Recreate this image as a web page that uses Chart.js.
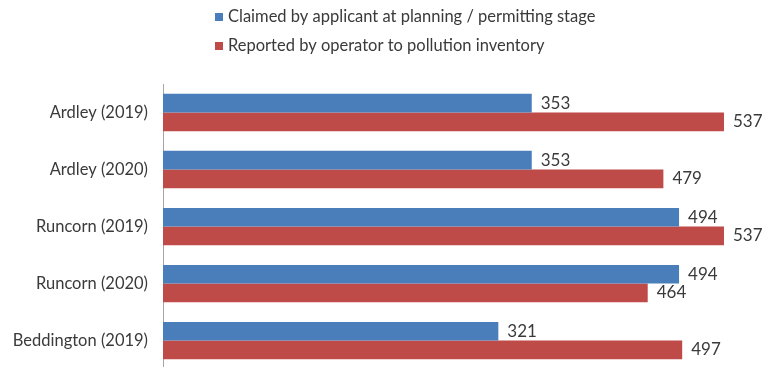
<!DOCTYPE html>
<html>
<head>
<meta charset="utf-8">
<script src="https://cdn.jsdelivr.net/npm/chart.js@4"></script>
<style>
  html, body { margin: 0; padding: 0; background: #fff; overflow: hidden; height: 367px; }
  #wrap { width: 764px; height: 394px; position: relative; }
</style>
</head>
<body>
<div id="wrap"><canvas id="chart"></canvas></div>
<script>
const categories = ["Ardley (2019)", "Ardley (2020)", "Runcorn (2019)", "Runcorn (2020)", "Beddington (2019)"];
const claimed = [353, 353, 494, 494, 321];
const reported = [537, 479, 537, 464, 497];
const seriesNames = ["Claimed by applicant at planning / permitting stage", "Reported by operator to pollution inventory"];

const fontFamily = 'Lato, "Open Sans", sans-serif';
const textColor = "#3a3a3a";

// legend drawn as two stacked rows, like the original
const stackedLegend = {
  id: "stackedLegend",
  afterDraw(chart) {
    const ctx = chart.ctx;
    ctx.save();
    ctx.font = "16.5px " + fontFamily;
    ctx.textBaseline = "middle";
    chart.data.datasets.forEach((ds, i) => {
      const y = 17 + i * 29;
      ctx.fillStyle = ds.backgroundColor;
      ctx.fillRect(215, y - 4, 8, 8);
      ctx.fillStyle = textColor;
      ctx.fillText(ds.label, 228, y);
    });
    ctx.restore();
  },
};

// value labels at the end of each bar
const barValues = {
  id: "barValues",
  afterDatasetsDraw(chart) {
    const ctx = chart.ctx;
    ctx.save();
    ctx.font = "17px " + fontFamily;
    ctx.fillStyle = textColor;
    ctx.textBaseline = "middle";
    chart.data.datasets.forEach((ds, i) => {
      chart.getDatasetMeta(i).data.forEach((bar, j) => {
        ctx.fillText(ds.data[j], bar.x + 9, bar.y);
      });
    });
    ctx.restore();
  },
};

new Chart(document.getElementById("chart"), {
  type: "bar",
  data: {
    labels: categories,
    datasets: [
      {
        label: seriesNames[0],
        data: claimed,
        backgroundColor: "#4a7ebb",
        borderWidth: 0,
      },
      {
        label: seriesNames[1],
        data: reported,
        backgroundColor: "#be4b48",
        borderWidth: 0,
      },
    ],
  },
  options: {
    indexAxis: "y",
    responsive: true,
    maintainAspectRatio: false,
    animation: false,
    layout: { padding: { top: 84, right: 16, left: 0, bottom: 0 } },
    datasets: { bar: { barPercentage: 1, categoryPercentage: 0.655 } },
    plugins: {
      legend: { display: false },
      tooltip: { enabled: false },
    },
    scales: {
      x: {
        display: false,
        min: 0,
        max: 560,
      },
      y: {
        afterFit: (scale) => { scale.width = 163; },
        grid: { display: false, drawTicks: false },
        border: { display: true, color: "#a6a6a6", width: 1 },
        ticks: {
          color: textColor,
          padding: 15,
          font: { size: 16.5, family: fontFamily },
        },
      },
    },
  },
  plugins: [stackedLegend, barValues],
});
</script>
</body>
</html>
